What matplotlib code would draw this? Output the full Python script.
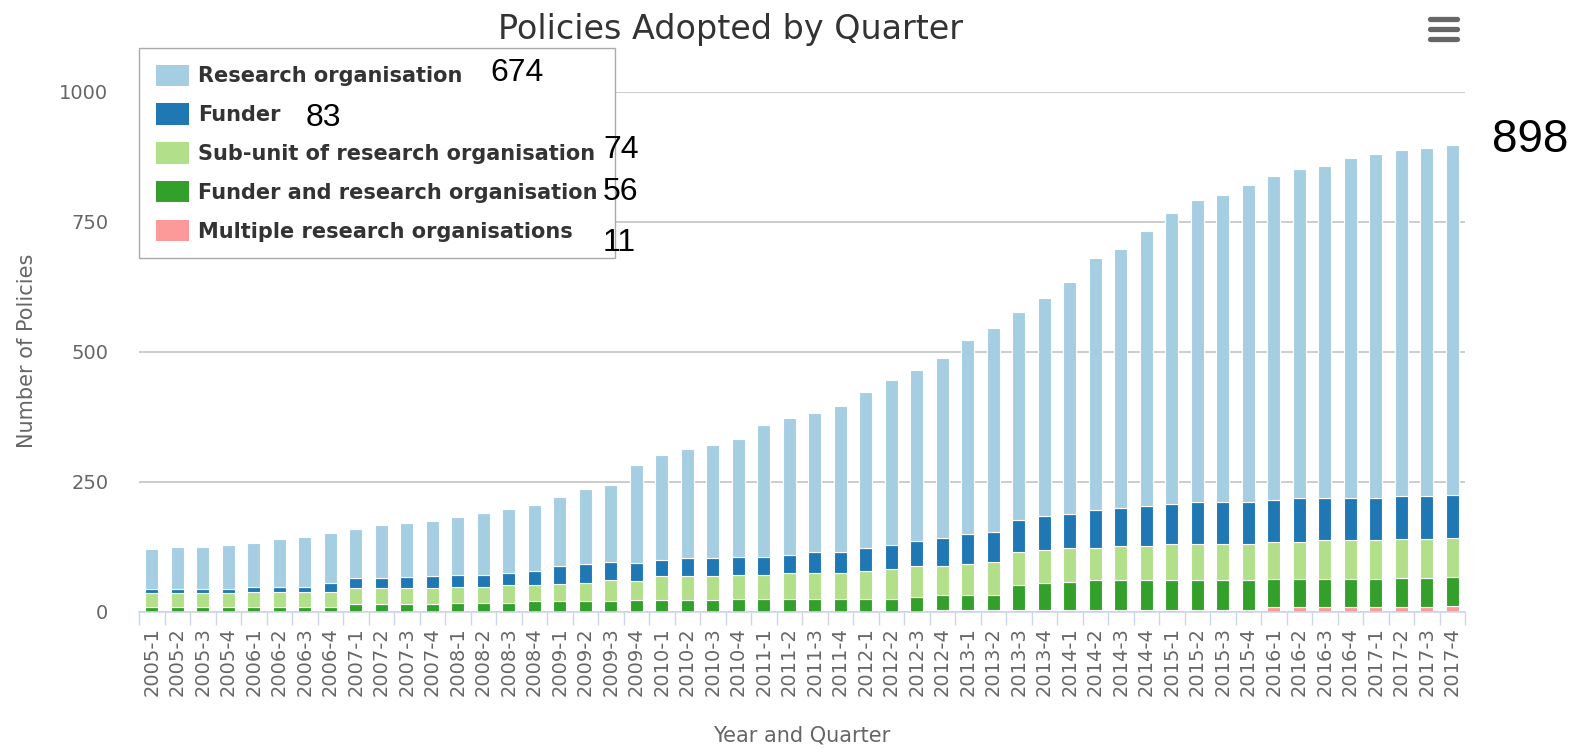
import numpy as np
import matplotlib.pyplot as plt
from matplotlib.patches import Patch
from matplotlib.lines import Line2D

# quarters 2005-1 .. 2017-4
quarters = [f"{y}-{q}" for y in range(2005, 2018) for q in range(1, 5)]

multiple = [0, 0, 0, 0, 0, 0, 0, 0, 0, 0, 0, 0, 0, 0, 0, 0, 0, 0, 0, 0,
            0, 0, 0, 0, 0, 0, 0, 0, 0, 0, 0, 4, 4, 4, 4, 4, 4, 4, 4, 4,
            4, 4, 4, 4, 9, 9, 9, 9, 9, 10, 10, 11]
funder_and_ro = [9, 9, 9, 9, 9, 9, 9, 9, 14, 14, 14, 14, 17, 17, 17, 21, 21, 21, 21, 22,
                 22, 22, 22, 25, 25, 25, 25, 25, 25, 25, 29, 29, 29, 29, 48, 52, 53, 57, 57, 57,
                 57, 57, 57, 57, 54, 54, 54, 54, 54, 55, 55, 56]
subunit = [27, 27, 27, 27, 28, 28, 28, 28, 31, 31, 31, 31, 31, 31, 35, 31, 32, 34, 40, 38,
           46, 46, 46, 46, 46, 50, 50, 50, 54, 58, 58, 54, 58, 62, 62, 62, 65, 62, 65, 65,
           69, 69, 69, 69, 71, 71, 75, 75, 75, 74, 74, 74]
funder = [8, 8, 8, 8, 10, 10, 10, 19, 19, 19, 22, 23, 23, 23, 23, 27, 34, 36, 34, 34,
          31, 35, 35, 35, 35, 35, 39, 39, 43, 46, 50, 54, 58, 58, 62, 66, 66, 73, 73, 77,
          77, 81, 81, 81, 80, 84, 80, 80, 80, 83, 83, 83]
research_org = [77, 80, 80, 84, 85, 93, 97, 95, 95, 102, 104, 107, 111, 119, 123, 126, 134, 146, 149, 188,
                202, 210, 218, 226, 254, 262, 269, 281, 300, 316, 328, 347, 374, 393, 401, 420, 446, 485, 498, 529,
                560, 582, 590, 610, 624, 633, 639, 655, 662, 666, 670, 674]

series = [
    ("Multiple research organisations", multiple, "#fb9a99"),
    ("Funder and research organisation", funder_and_ro, "#33a02c"),
    ("Sub-unit of research organisation", subunit, "#b2df8a"),
    ("Funder", funder, "#1f78b4"),
    ("Research organisation", research_org, "#a6cee3"),
]

W, H = 1587, 749
fig = plt.figure(figsize=(W / 100, H / 100), dpi=100)
ax = fig.add_axes([139 / W, 1 - 611.7 / H, (1465 - 139) / W, (611.7 - 92) / H])

x = np.arange(len(quarters))
bottom = np.zeros(len(quarters))
for name, vals, col in series:
    vals = np.array(vals)
    ax.bar(x, vals, width=0.5, bottom=bottom, color=col, edgecolor="white", linewidth=0.8, zorder=2)
    bottom += vals

ax.set_xlim(-0.5, len(quarters) - 0.5)
ax.set_ylim(0, 1000)
ax.set_yticks([0, 250, 500, 750, 1000])
ax.yaxis.grid(True, color="#c8c8c8", linewidth=1.3, zorder=0)
ax.set_axisbelow(True)
for s in ["top", "right", "left"]:
    ax.spines[s].set_visible(False)
ax.spines["bottom"].set_color("#ccd6eb")
ax.spines["bottom"].set_linewidth(1.2)

ax.tick_params(axis="y", length=0, pad=22, labelsize=14, labelcolor="#666666")
ax.set_xticks(x)
ax.set_xticklabels(quarters, rotation=90)
ax.tick_params(axis="x", which="major", length=0, pad=11, labelsize=14, labelcolor="#666666")
ax.set_xticks(np.arange(-0.5, len(quarters)), minor=True)
ax.tick_params(axis="x", which="minor", length=9, width=1, color="#ccd6eb")

fig.text(731 / W, 1 - 38.5 / H, "Policies Adopted by Quarter", ha="center", va="baseline",
         fontsize=24, color="#333333")
fig.text(27 / W, 1 - 351 / H, "Number of Policies", rotation=90, ha="center", va="center",
         fontsize=15, color="#666666")
fig.text(802 / W, 1 - 741 / H, "Year and Quarter", ha="center", va="baseline",
         fontsize=15, color="#666666")

# legend (top series first)
handles = [Patch(facecolor=col, edgecolor="none") for _, _, col in reversed(series)]
labels = [name for name, _, _ in reversed(series)]
fig.legend(handles, labels, loc="upper left", bbox_to_anchor=(139 / W, 1 - 48 / H),
           bbox_transform=fig.transFigure, prop={"weight": "bold", "size": 15},
           labelcolor="#333333", handlelength=1.6, handleheight=1.2, labelspacing=0.82,
           handletextpad=0.45, borderpad=0.8, borderaxespad=0, fancybox=False,
           edgecolor="#aaaaaa", framealpha=1)

# menu icon
for yy in [19.3, 29.3, 39.3]:
    fig.add_artist(Line2D([1430 / W, 1457 / W], [1 - yy / H, 1 - yy / H], color="#666666",
                          linewidth=3.8, solid_capstyle="round"))

# added count annotations
notes = [("674", 517, 73, 23), ("83", 323, 118, 23), ("74", 621, 150, 23),
         ("56", 621, 192, 23), ("11", 619, 243, 23), ("898", 1530, 140, 33)]
for txt, nx, ny, fs in notes:
    fig.text(nx / W, 1 - ny / H, txt, ha="center", va="center", fontsize=fs,
             family="Liberation Sans", color="black", zorder=10)

fig.savefig("out.png", dpi=100)
